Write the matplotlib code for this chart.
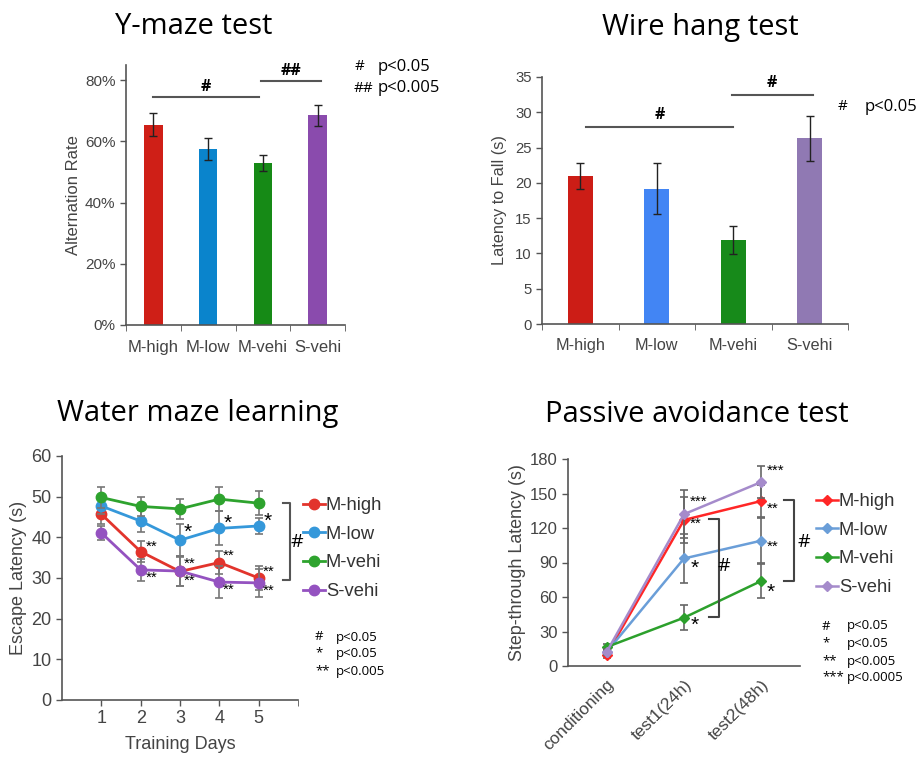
import matplotlib.pyplot as plt

W, H = 918, 757

groups = ["M-high", "M-low", "M-vehi", "S-vehi"]

# Y-maze (alternation rate, %)
ymaze_mean = [65.5, 57.5, 53.0, 68.5]
ymaze_err = [3.8, 3.7, 2.7, 3.5]
ymaze_colors = ["#cf1f17", "#0a84cc", "#168a16", "#8a4bad"]

# Wire hang (latency to fall, s)
wire_mean = [21.0, 19.2, 11.9, 26.3]
wire_err = [1.85, 3.6, 1.95, 3.2]
wire_colors = ["#cc1d16", "#4285f4", "#178a1a", "#9079b3"]

# Water maze (escape latency, s)
days = [1, 2, 3, 4, 5]
wm_high = [45.7, 36.5, 31.6, 33.8, 30.0]
wm_high_err = [2.5, 2.6, 3.5, 2.8, 2.9]
wm_low = [47.7, 44.0, 39.3, 42.2, 42.8]
wm_low_err = [2.0, 2.7, 4.0, 4.2, 2.0]
wm_vehi = [49.8, 47.6, 47.0, 49.4, 48.4]
wm_vehi_err = [2.7, 2.4, 2.4, 3.0, 3.0]
wm_svehi = [41.1, 32.0, 31.7, 29.0, 28.8]
wm_svehi_err = [1.7, 2.7, 3.6, 4.0, 3.5]
wm_colors = ["#e2342c", "#3598da", "#2ea32e", "#9452c0"]

# Passive avoidance (step-through latency, s)
pa_labels = ["conditioning", "test1(24h)", "test2(48h)"]
pa_high = [9.9, 127.0, 143.5]
pa_high_err = [3.0, 20.0, 14.0]
pa_low = [12.2, 93.5, 109.0]
pa_low_err = [3.0, 21.0, 19.5]
pa_vehi = [16.5, 42.0, 74.0]
pa_vehi_err = [3.0, 11.0, 15.0]
pa_svehi = [12.2, 132.0, 160.0]
pa_svehi_err = [3.0, 21.0, 13.5]
pa_colors = ["#ff2626", "#6a9ed8", "#2ca02c", "#a58bcb"]


def box(l, t, r, b):
    return [l / W, 1 - b / H, (r - l) / W, (b - t) / H]


def fx(px):
    return px / W


def fy(py):
    return 1 - py / H


SANS = "Liberation Sans"
CAL = "Open Sans"
AXC = "#555555"
TXC = "#444444"

fig = plt.figure(figsize=(W / 100, H / 100), dpi=100)


def style(ax, size):
    for s in ["top", "right"]:
        ax.spines[s].set_visible(False)
    for s in ["left", "bottom"]:
        ax.spines[s].set_color(AXC)
        ax.spines[s].set_linewidth(1.2)
    ax.tick_params(colors=AXC, labelcolor=TXC, labelsize=size, length=4, width=1)
    for lab in ax.get_xticklabels() + ax.get_yticklabels():
        lab.set_family(SANS)


def sig_line(ax, x0, x1, y, text, dy):
    ax.plot([x0, x1], [y, y], color="#555555", lw=1.5, clip_on=False)
    ax.text((x0 + x1) / 2, y + dy, text, ha="center", va="bottom",
            fontsize=11.5, family=CAL, fontweight="bold")


# ---------- Y-maze ----------
ax1 = fig.add_axes(box(126, 65, 345, 325))
x = range(len(groups))
ax1.bar(x, ymaze_mean, width=0.34, color=ymaze_colors,
        yerr=ymaze_err, error_kw=dict(ecolor="#222222", elinewidth=1, capsize=3, capthick=1))
ax1.set_xlim(-0.5, 3.5)
ax1.set_ylim(0, 85)
ax1.set_yticks([0, 20, 40, 60, 80])
ax1.set_yticklabels(["0%", "20%", "40%", "60%", "80%"])
ax1.set_xticks(list(x))
ax1.set_xticklabels(groups)
ax1.set_xticks([-0.5, 0.5, 1.5, 2.5, 3.5], minor=True)
style(ax1, 11)
ax1.tick_params(axis="x", which="major", length=0, labelsize=12, pad=11)
ax1.tick_params(axis="x", which="minor", length=4, color=AXC)
ax1.set_ylabel("Alternation Rate", family=SANS, fontsize=12, color=TXC, labelpad=3)
sig_line(ax1, 0.0, 1.93, 74.5, "#", 0.8)
sig_line(ax1, 1.97, 3.06, 79.7, "##", 0.8)
fig.text(fx(355), fy(67), "#", family=CAL, fontsize=11, va="center")
fig.text(fx(378), fy(67), "p<0.05", family=CAL, fontsize=12, va="center")
fig.text(fx(354), fy(88), "##", family=CAL, fontsize=11, va="center")
fig.text(fx(378), fy(88), "p<0.005", family=CAL, fontsize=12, va="center")
fig.text(fx(194), fy(27), "Y-maze test", family=CAL, fontsize=21, ha="center", va="center")

# ---------- Wire hang ----------
ax2 = fig.add_axes(box(542, 77, 848, 324))
ax2.bar(x, wire_mean, width=0.33, color=wire_colors,
        yerr=wire_err, error_kw=dict(ecolor="#222222", elinewidth=1, capsize=3, capthick=1))
ax2.set_xlim(-0.5, 3.5)
ax2.set_ylim(0, 35)
ax2.set_yticks(range(0, 36, 5))
ax2.set_xticks(list(x))
ax2.set_xticklabels(groups)
ax2.set_xticks([-0.5, 0.5, 1.5, 2.5, 3.5], minor=True)
style(ax2, 10.7)
ax2.tick_params(axis="x", which="major", length=0, labelsize=11.7, pad=10)
ax2.tick_params(axis="x", which="minor", length=4, color=AXC)
ax2.set_ylabel("Latency to Fall (s)", family=SANS, fontsize=11.7, color=TXC, labelpad=6)
sig_line(ax2, 0.07, 2.0, 27.9, "#", 0.6)
sig_line(ax2, 1.98, 3.04, 32.4, "#", 0.6)
fig.text(fx(838), fy(107), "#", family=CAL, fontsize=11, va="center")
fig.text(fx(865), fy(107), "p<0.05", family=CAL, fontsize=12, va="center")
fig.text(fx(700), fy(27), "Wire hang test", family=CAL, fontsize=21, ha="center", va="center")

# ---------- Water maze ----------
ax3 = fig.add_axes(box(62, 456, 298, 700))
wm_series = [(wm_high, wm_high_err), (wm_low, wm_low_err),
             (wm_vehi, wm_vehi_err), (wm_svehi, wm_svehi_err)]
for (m, e), c, g in zip(wm_series, wm_colors, groups):
    ax3.errorbar(days, m, yerr=e, fmt="none", ecolor="#777777", elinewidth=1.2,
                 capsize=3, capthick=1.2)
    ax3.plot(days, m, color=c, lw=2, marker="o", ms=7.5, label=g)
ax3.set_xlim(0, 6)
ax3.set_ylim(0, 60)
ax3.set_yticks(range(0, 61, 10))
ax3.set_xticks(days)
ax3.set_xticks([6], minor=True)
style(ax3, 13)
ax3.tick_params(axis="x", which="minor", length=4, color=AXC)
ax3.set_xlabel("Training Days", family=SANS, fontsize=13, color=TXC, labelpad=6)
ax3.set_ylabel("Escape Latency (s)", family=SANS, fontsize=13, color=TXC, labelpad=3)
wm_stars = [(2.12, 37.6, "**"), (2.12, 30.0, "**"), (3.1, 41.2, "*"), (3.1, 33.6, "**"),
            (3.1, 29.3, "**"), (4.12, 43.4, "*"), (4.1, 35.5, "**"), (4.1, 27.0, "**"),
            (5.12, 44.0, "*"), (5.1, 31.6, "**"), (5.1, 26.8, "**")]
for sx, sy, st in wm_stars:
    ax3.text(sx, sy, st, fontsize=15 if st == "*" else 11, family=SANS,
             ha="left", va="center")
ax3.plot([5.62, 5.8, 5.8, 5.62], [48.5, 48.5, 29.5, 29.5], color="#555555",
         lw=1.5, clip_on=False)
ax3.text(5.98, 38.8, "#", family=CAL, fontsize=14, ha="center", va="center")
leg3 = ax3.legend(loc="upper left", bbox_to_anchor=(fx(303), fy(497)),
                  bbox_transform=fig.transFigure, frameon=False, handlelength=1.2,
                  handletextpad=0.05, labelspacing=0.64, borderaxespad=0, borderpad=0,
                  prop=dict(family=SANS, size=13.2))
for t in leg3.get_texts():
    t.set_color("#333333")
for i, (sym, val) in enumerate([("#", "p<0.05"), ("*", "p<0.05"), ("**", "p<0.005")]):
    yy = [637, 653, 671][i]
    fig.text(fx(315), fy(yy), sym, family=CAL, fontsize=9.5, va="center")
    fig.text(fx(336), fy(yy), val, family=CAL, fontsize=9.5, va="center")
fig.text(fx(198), fy(414), "Water maze learning", family=CAL, fontsize=21,
         ha="center", va="center")

# ---------- Passive avoidance ----------
ax4 = fig.add_axes(box(568, 459, 800, 666))
px = range(len(pa_labels))
pa_series = [(pa_high, pa_high_err), (pa_low, pa_low_err),
             (pa_vehi, pa_vehi_err), (pa_svehi, pa_svehi_err)]
for (m, e), c, g in zip(pa_series, pa_colors, groups):
    ax4.errorbar(px, m, yerr=e, fmt="none", ecolor="#666666", elinewidth=1.2,
                 capsize=3, capthick=1.2)
    ax4.plot(px, m, color=c, lw=1.8, marker="D", ms=5.5, label=g)
ax4.set_xlim(-0.5, 2.5)
ax4.set_ylim(0, 180)
ax4.set_yticks(range(0, 181, 30))
ax4.set_xticks(list(px))
ax4.set_xticklabels(pa_labels, rotation=45, ha="right", rotation_mode="anchor")
style(ax4, 12)
ax4.tick_params(axis="x", length=0, pad=8, labelsize=12.4)
ax4.set_ylabel("Step-through Latency (s)", family=SANS, fontsize=12.9, color=TXC, labelpad=3)
pa_stars = [(1.08, 143, "***"), (1.08, 123.5, "**"), (1.08, 85, "*"), (1.08, 35, "*"),
            (2.07, 170, "***"), (2.07, 137, "**"), (2.07, 104, "**"), (2.07, 64, "*")]
for sx, sy, st in pa_stars:
    ax4.text(sx, sy, st, fontsize=15 if st == "*" else 11, family=SANS,
             ha="left", va="center")
ax4.plot([1.32, 1.45, 1.45, 1.32], [128, 128, 43, 43], color="#444444", lw=1.5, clip_on=False)
ax4.text(1.52, 87, "#", family=CAL, fontsize=14, ha="center", va="center")
ax4.plot([2.29, 2.42, 2.42, 2.29], [144, 144, 74, 74], color="#444444", lw=1.5, clip_on=False)
ax4.text(2.55, 107.5, "#", family=CAL, fontsize=14, ha="center", va="center")
leg4 = ax4.legend(loc="upper left", bbox_to_anchor=(fx(816), fy(493)),
                  bbox_transform=fig.transFigure, frameon=False, handlelength=1.2,
                  handletextpad=0.05, labelspacing=0.64, borderaxespad=0, borderpad=0,
                  prop=dict(family=SANS, size=13.2))
for t in leg4.get_texts():
    t.set_color("#333333")
for i, (sym, val) in enumerate([("#", "p<0.05"), ("*", "p<0.05"), ("**", "p<0.005"),
                                ("***", "p<0.0005")]):
    yy = [626, 643, 661, 677][i]
    fig.text(fx(822), fy(yy), sym, family=CAL, fontsize=9.5, va="center")
    fig.text(fx(847), fy(yy), val, family=CAL, fontsize=9.5, va="center")
fig.text(fx(697), fy(414), "Passive avoidance test", family=CAL, fontsize=21,
         ha="center", va="center")

fig.savefig("out.png", dpi=100)
